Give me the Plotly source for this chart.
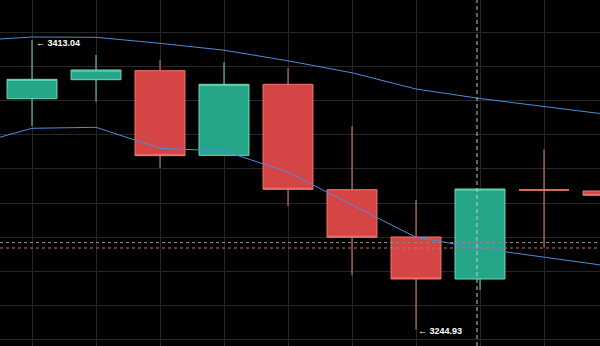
import plotly.graph_objects as go

# ---- data ----
idx = [0, 1, 2, 3, 4, 5, 6, 7, 8, 9]
opens  = [3379.01, 3390.03, 3395.24, 3346.20, 3387.36, 3326.26, 3298.84, 3274.49, 3326.10, 3325.51]
highs  = [3413.04, 3404.34, 3401.45, 3400.11, 3396.63, 3363.19, 3320.29, 3326.66, 3349.68, 3325.51]
lows   = [3363.19, 3377.27, 3339.01, 3346.20, 3316.81, 3276.64, 3244.93, 3268.11, 3292.87, 3323.01]
closes = [3390.26, 3395.65, 3345.97, 3387.36, 3326.49, 3298.67, 3274.49, 3326.66, 3326.08, 3323.01]

band_idx = [-1, 0, 1, 2, 3, 4, 5, 6, 7, 8, 9]
upper = [3412.46, 3414.78, 3414.61, 3411.13, 3407.13, 3400.98, 3394.03, 3384.63, 3379.13, 3374.49, 3369.85]
lower = [3351.59, 3361.85, 3362.43, 3350.26, 3348.69, 3336.52, 3317.39, 3298.67, 3292.29, 3287.07, 3282.03]

high_label = "← 3413.04"
low_label = "← 3244.93"
crosshair_x = 6.953
crosshair_price = 3295.65
last_price = 3292.46

fig = go.Figure()

for y in (upper, lower):
    fig.add_trace(go.Scatter(x=band_idx, y=y, mode="lines",
                             line=dict(color="#4a8fd8", width=1),
                             hoverinfo="skip", showlegend=False))

fig.add_trace(go.Candlestick(
    x=idx, open=opens, high=highs, low=lows, close=closes,
    increasing=dict(line=dict(color="#6fdcb8", width=1), fillcolor="#26a689"),
    decreasing=dict(line=dict(color="#f27a70", width=1), fillcolor="#d64545"),
    whiskerwidth=0, showlegend=False, hoverinfo="skip"))

fig.add_shape(type="line", xref="x", yref="paper", x0=crosshair_x, x1=crosshair_x, y0=0, y1=1,
              line=dict(color="#c8c8c8", width=1, dash="4px,3px"))
fig.add_shape(type="line", xref="paper", yref="y", x0=0, x1=1, y0=crosshair_price, y1=crosshair_price,
              line=dict(color="#8a8a8a", width=1, dash="3px,3px"))
fig.add_shape(type="line", xref="paper", yref="y", x0=0, x1=1, y0=last_price, y1=last_price,
              line=dict(color="#c87060", width=1, dash="3px,3px"))

fig.add_annotation(x=0, y=highs[0], text=high_label, showarrow=False, xanchor="left",
                   yanchor="middle", xshift=2, yshift=-3,
                   font=dict(color="#ffffff", size=9, family="Arial", weight="bold"))
fig.add_annotation(x=6, y=lows[6], text=low_label, showarrow=False, xanchor="left",
                   yanchor="middle", xshift=0, yshift=-1,
                   font=dict(color="#ffffff", size=9, family="Arial", weight="bold"))

fig.update_layout(
    width=600, height=346,
    margin=dict(l=0, r=0, t=0, b=0, pad=0),
    paper_bgcolor="#000000", plot_bgcolor="#000000",
    showlegend=False, boxgap=0.22, boxgroupgap=0,
    xaxis=dict(range=[-0.5, 8.875], showticklabels=False, tickmode="linear", tick0=0, dtick=1,
               showgrid=True, gridcolor="#262626", gridwidth=1, zeroline=False, showline=False,
               rangeslider=dict(visible=False), fixedrange=True),
    yaxis=dict(range=[3235.65, 3436.23], showticklabels=False, tickmode="linear",
               tick0=3417.39, dtick=19.77, showgrid=True, gridcolor="#262626", gridwidth=1,
               zeroline=False, showline=False, fixedrange=True),
)

fig.write_html("out.html")
